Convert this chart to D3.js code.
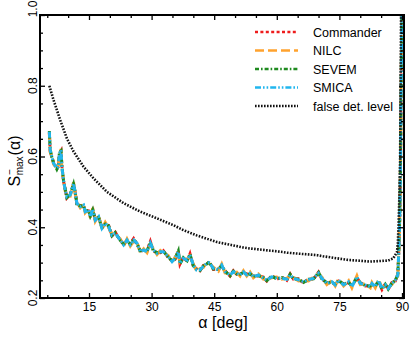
<!DOCTYPE html>
<html>
<head>
<meta charset="utf-8">
<script src="https://cdn.jsdelivr.net/npm/d3@7"></script>
<style>
  body { margin: 0; background: #fff; }
  svg { display: block; font-family: "Liberation Sans", Arial, sans-serif; }
</style>
</head>
<body>
<div id="canvas"></div>
<script>
// angle grid (deg) shared by the four maps
const alpha = [
  5.5, 5.7, 6.1, 6.5, 7.3, 7.7, 7.9, 8.3, 8.5, 8.9,
  9.3, 9.7, 10.5, 11.3, 11.7, 12.1, 12.9, 13.7, 14.1, 14.9,
  15.3, 15.9, 16.5, 17.3, 18.1, 18.9, 19.7, 20.5, 21.3, 22.5,
  23.3, 24.1, 24.9, 25.7, 26.5, 27.3, 28.1, 28.9, 29.7, 30.4,
  31.3, 32.1, 32.8, 34.0, 34.9, 35.6, 36.4, 36.8, 37.6, 38.5,
  39.2, 40.0, 40.8, 41.6, 42.4, 43.2, 43.8, 44.8, 46.0, 46.8,
  47.6, 48.8, 49.6, 50.4, 51.2, 52.0, 52.8, 53.6, 54.4, 55.6,
  56.8, 57.6, 58.8, 60.0, 61.2, 62.4, 63.2, 64.0, 65.2, 66.4,
  67.6, 68.8, 70.0, 70.8, 72.0, 73.2, 74.0, 74.8, 76.0, 77.2,
  78.0, 79.2, 80.0, 81.2, 82.4, 82.8, 83.6, 84.4, 85.2, 86.0,
  86.7, 87.6, 88.4, 89.0, 89.15, 89.3, 89.5, 89.65, 89.8, 90.0
];

const commander = [
  0.668, 0.615, 0.598, 0.584, 0.565, 0.573, 0.606, 0.615, 0.574, 0.530,
  0.507, 0.483, 0.494, 0.520, 0.499, 0.466, 0.461, 0.460, 0.447, 0.446,
  0.433, 0.448, 0.423, 0.428, 0.400, 0.408, 0.405, 0.376, 0.386, 0.362,
  0.353, 0.361, 0.353, 0.368, 0.352, 0.334, 0.333, 0.334, 0.360, 0.333,
  0.329, 0.328, 0.334, 0.314, 0.306, 0.309, 0.334, 0.296, 0.315, 0.304,
  0.325, 0.290, 0.282, 0.277, 0.292, 0.295, 0.303, 0.281, 0.282, 0.290,
  0.277, 0.262, 0.277, 0.267, 0.268, 0.271, 0.268, 0.267, 0.263, 0.262,
  0.259, 0.248, 0.263, 0.253, 0.259, 0.250, 0.268, 0.253, 0.254, 0.243,
  0.254, 0.253, 0.273, 0.253, 0.244, 0.243, 0.240, 0.248, 0.240, 0.243,
  0.235, 0.257, 0.244, 0.234, 0.235, 0.238, 0.235, 0.246, 0.224, 0.240,
  0.224, 0.244, 0.248, 0.268, 0.310, 0.350, 0.445, 0.585, 0.795, 1.050
];

const nilc = [
  0.665, 0.612, 0.603, 0.578, 0.570, 0.568, 0.604, 0.621, 0.568, 0.536,
  0.502, 0.489, 0.488, 0.527, 0.494, 0.471, 0.455, 0.466, 0.441, 0.452,
  0.427, 0.454, 0.417, 0.433, 0.394, 0.414, 0.399, 0.381, 0.380, 0.367,
  0.347, 0.367, 0.347, 0.361, 0.358, 0.328, 0.339, 0.328, 0.352, 0.339,
  0.323, 0.334, 0.328, 0.320, 0.300, 0.315, 0.328, 0.301, 0.309, 0.310,
  0.319, 0.296, 0.276, 0.283, 0.286, 0.301, 0.297, 0.287, 0.276, 0.296,
  0.271, 0.268, 0.271, 0.273, 0.262, 0.277, 0.262, 0.273, 0.257, 0.268,
  0.253, 0.254, 0.257, 0.259, 0.253, 0.256, 0.262, 0.259, 0.248, 0.249,
  0.248, 0.259, 0.267, 0.259, 0.238, 0.249, 0.234, 0.254, 0.234, 0.249,
  0.229, 0.263, 0.238, 0.240, 0.229, 0.244, 0.229, 0.252, 0.230, 0.234,
  0.230, 0.238, 0.254, 0.262, 0.304, 0.357, 0.452, 0.595, 0.805, 1.050
];

const sevem = [
  0.672, 0.620, 0.597, 0.583, 0.564, 0.574, 0.611, 0.616, 0.573, 0.531,
  0.508, 0.484, 0.493, 0.522, 0.500, 0.465, 0.460, 0.461, 0.446, 0.447,
  0.432, 0.449, 0.422, 0.428, 0.399, 0.409, 0.404, 0.376, 0.385, 0.362,
  0.352, 0.362, 0.352, 0.366, 0.353, 0.333, 0.334, 0.333, 0.357, 0.334,
  0.328, 0.329, 0.333, 0.315, 0.305, 0.310, 0.333, 0.297, 0.314, 0.305,
  0.324, 0.291, 0.281, 0.278, 0.291, 0.296, 0.302, 0.282, 0.281, 0.291,
  0.276, 0.263, 0.276, 0.268, 0.267, 0.272, 0.267, 0.268, 0.262, 0.263,
  0.258, 0.249, 0.262, 0.254, 0.258, 0.251, 0.267, 0.254, 0.253, 0.244,
  0.253, 0.254, 0.272, 0.254, 0.243, 0.244, 0.239, 0.249, 0.239, 0.244,
  0.234, 0.258, 0.243, 0.235, 0.234, 0.239, 0.234, 0.247, 0.225, 0.239,
  0.225, 0.243, 0.249, 0.267, 0.309, 0.351, 0.447, 0.588, 0.798, 1.050
];

const smica = [
  0.670, 0.618, 0.600, 0.581, 0.567, 0.571, 0.609, 0.618, 0.571, 0.533,
  0.505, 0.486, 0.491, 0.524, 0.497, 0.468, 0.458, 0.463, 0.444, 0.449,
  0.430, 0.451, 0.420, 0.430, 0.397, 0.411, 0.402, 0.378, 0.383, 0.364,
  0.350, 0.364, 0.350, 0.364, 0.355, 0.331, 0.336, 0.331, 0.355, 0.336,
  0.326, 0.331, 0.331, 0.317, 0.303, 0.312, 0.331, 0.298, 0.312, 0.307,
  0.322, 0.293, 0.279, 0.280, 0.289, 0.298, 0.300, 0.284, 0.279, 0.293,
  0.274, 0.265, 0.274, 0.270, 0.265, 0.274, 0.265, 0.270, 0.260, 0.265,
  0.256, 0.251, 0.260, 0.256, 0.256, 0.253, 0.265, 0.256, 0.251, 0.246,
  0.251, 0.256, 0.270, 0.256, 0.241, 0.246, 0.237, 0.251, 0.237, 0.246,
  0.232, 0.260, 0.241, 0.237, 0.232, 0.241, 0.232, 0.249, 0.227, 0.237,
  0.227, 0.241, 0.251, 0.265, 0.307, 0.354, 0.449, 0.590, 0.800, 1.050
];

// false detection level (own grid)
const falseAlpha = [
  5.5, 6.5, 8.1, 9.7, 11.3, 13.7, 16.1, 19.3, 23.3, 27.3,
  31.3, 35.2, 37.6, 40.8, 45.7, 51.9, 53.6, 61.5, 62.5, 69.7,
  71.1, 76.8, 82.4, 86.7, 87.9, 88.8, 89.0, 89.15, 89.4, 89.55, 89.8
];
const falseLevel = [
  0.800, 0.760, 0.703, 0.651, 0.614, 0.571, 0.538, 0.500, 0.468, 0.444,
  0.425, 0.406, 0.392, 0.377, 0.358, 0.343, 0.340, 0.330, 0.328, 0.321,
  0.318, 0.308, 0.303, 0.306, 0.312, 0.330, 0.355, 0.400, 0.497, 0.590, 1.050
];

const xMajor = [15, 30, 45, 60, 75, 90];
const xMinor = [5, 10, 20, 25, 35, 40, 50, 55, 65, 70, 80, 85];
const yMajor = [0.2, 0.4, 0.6, 0.8, 1.0];
const yMinor = [0.25, 0.3, 0.35, 0.45, 0.5, 0.55, 0.65, 0.7, 0.75, 0.85, 0.9, 0.95];

const seriesNames = ["Commander", "NILC", "SEVEM", "SMICA", "false det. level"];
const seriesColors = ["#ee1c1c", "#ffa22e", "#1f8a1f", "#22b6ee", "#111111"];
const seriesDash = ["3,2.4", "9,4", "4,2,1.6,2", "6,2,1.6,2,1.6,2", "1.6,1.4"];

const width = 415;
const height = 337;
const margin = { top: 15, left: 40, bottom: 39, right: 11 };
const iwidth = width - margin.left - margin.right;
const iheight = height - margin.top - margin.bottom;

const svg = d3.select("#canvas").append("svg")
  .attr("width", width)
  .attr("height", height);

const g = svg.append("g")
  .attr("transform", `translate(${margin.left},${margin.top})`);

const x = d3.scaleLinear().domain([3.26, 90.48]).range([0, iwidth]);
const y = d3.scaleLinear().domain([0.2, 1.0]).range([iheight, 0]);

g.append("clipPath").attr("id", "plot-clip")
  .append("rect").attr("width", iwidth).attr("height", iheight);

// data lines
const series = [commander, nilc, sevem, smica];
const line = d3.line().x((d) => x(d[0])).y((d) => y(d[1]));
const lines = g.append("g").attr("clip-path", "url(#plot-clip)");

series.forEach((vals, i) => {
  lines.append("path")
    .datum(alpha.map((a, k) => [a, vals[k]]))
    .attr("fill", "none")
    .attr("stroke", seriesColors[i])
    .attr("stroke-width", 3)
    .attr("stroke-dasharray", seriesDash[i])
    .attr("d", line);
});

lines.append("path")
  .datum(falseAlpha.map((a, k) => [a, falseLevel[k]]))
  .attr("fill", "none")
  .attr("stroke", seriesColors[4])
  .attr("stroke-width", 2.6)
  .attr("stroke-dasharray", seriesDash[4])
  .attr("d", line);

// ticks, all pointing inward
function styleAxis(sel) {
  sel.select(".domain").remove();
  sel.selectAll(".tick line").attr("stroke", "#000").attr("stroke-width", 1.3);
  sel.attr("font-family", null).attr("font-size", 12);
  sel.selectAll("text").attr("fill", "#000");
}

g.append("g").attr("transform", `translate(0,${iheight})`)
  .call(d3.axisBottom(x).tickValues(xMinor).tickSize(-3).tickFormat(""))
  .call(styleAxis);
g.append("g").attr("transform", `translate(0,${iheight})`)
  .call(d3.axisBottom(x).tickValues(xMajor).tickSize(-5).tickPadding(4.5).tickFormat(d3.format("d")))
  .call(styleAxis);
g.append("g")
  .call(d3.axisTop(x).tickValues(xMinor).tickSize(-3).tickFormat(""))
  .call(styleAxis);
g.append("g")
  .call(d3.axisTop(x).tickValues(xMajor).tickSize(-5).tickFormat(""))
  .call(styleAxis);

g.append("g")
  .call(d3.axisLeft(y).tickValues(yMinor).tickSize(-3).tickFormat(""))
  .call(styleAxis);
g.append("g")
  .call(d3.axisLeft(y).tickValues(yMajor).tickSize(-5).tickFormat(""))
  .call(styleAxis);
g.append("g").attr("transform", `translate(${iwidth},0)`)
  .call(d3.axisRight(y).tickValues(yMinor).tickSize(-3).tickFormat(""))
  .call(styleAxis);
g.append("g").attr("transform", `translate(${iwidth},0)`)
  .call(d3.axisRight(y).tickValues(yMajor).tickSize(-5).tickFormat(""))
  .call(styleAxis);

// rotated y tick labels (top one pushed down just enough to stay on the page)
g.append("g").selectAll("text").data(yMajor).join("text")
  .attr("transform", (d) => `translate(-3,${d === 1.0 ? y(d) - 6 : y(d)}) rotate(-90)`)
  .attr("text-anchor", "middle")
  .attr("font-size", 12)
  .text((d) => d3.format(".1f")(d));

// frame
g.append("rect")
  .attr("width", iwidth)
  .attr("height", iheight)
  .attr("fill", "none")
  .attr("stroke", "#000")
  .attr("stroke-width", 2);

// axis titles
g.append("text")
  .attr("x", iwidth / 2 + 1)
  .attr("y", iheight + 30)
  .attr("text-anchor", "middle")
  .attr("font-size", 16)
  .text("α [deg]");

const yl = svg.append("g").attr("transform", "translate(20,161) rotate(-90)");
const s = yl.append("text").attr("font-size", 16).text("S");
const sw = s.node().getComputedTextLength();
const sub = yl.append("text").attr("x", sw + 0.5).attr("y", 3).attr("font-size", 10).text("max");
yl.append("text").attr("x", sw + 1).attr("y", -7).attr("font-size", 10).text("−");
const subw = sub.node().getComputedTextLength();
yl.append("text").attr("x", sw + subw + 1.5).attr("font-size", 16).text("(α)");
const ylw = yl.node().getBBox().width;
yl.selectAll("text").attr("transform", `translate(${-ylw / 2},0)`);

// legend
const legend = g.append("g").attr("transform", "translate(215,17)");
seriesNames.forEach((name, i) => {
  const row = legend.append("g").attr("transform", `translate(0,${i * 18.5})`);
  row.append("line")
    .attr("x1", 0).attr("x2", 43)
    .attr("stroke", seriesColors[i])
    .attr("stroke-width", 2.6)
    .attr("stroke-dasharray", seriesDash[i]);
  row.append("text")
    .attr("x", 58)
    .attr("y", 4.5)
    .attr("font-size", 12.5)
    .text(name);
});
</script>
</body>
</html>
